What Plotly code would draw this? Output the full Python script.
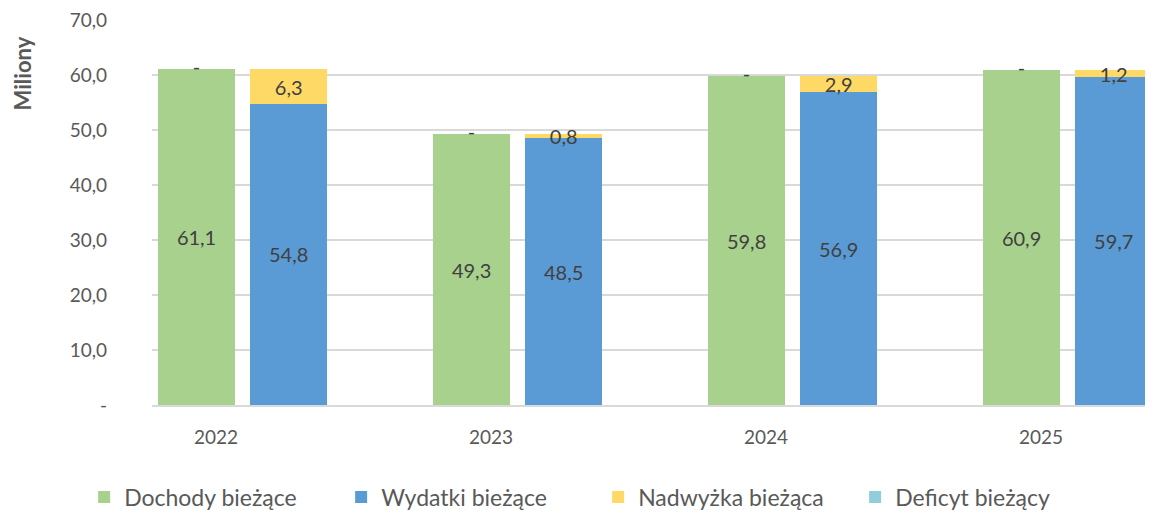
import plotly.graph_objects as go

lata = ["2022", "2023", "2024", "2025"]
dochody = [61.1, 49.3, 59.8, 60.9]
wydatki = [54.8, 48.5, 56.9, 59.7]
nadwyzka = [6.3, 0.8, 2.9, 1.2]
deficyt = [0.0, 0.0, 0.0, 0.0]
y_ticks = [0, 10, 20, 30, 40, 50, 60, 70]

GREEN = "#A9D18E"
BLUE = "#5B9BD5"
YELLOW = "#FFD966"
LIGHTBLUE = "#92CDDC"
TEXT = "#404040"
FONT = "Lato, Open Sans, sans-serif"
LABEL_SIZE = 20


def fmt(v):
    return "-" if v == 0 else f"{v:.1f}".replace(".", ",")


# two stacks per year, placed left/right of the category tick
idx = list(range(len(lata)))
x_left = [i - 0.071 for i in idx]
x_right = [i + 0.264 for i in idx]
BAR_W = 0.28

fig = go.Figure()
fig.add_trace(go.Bar(
    x=x_left, y=dochody, width=BAR_W, name="Dochody bieżące",
    marker=dict(color=GREEN, line=dict(width=0)),
    text=[fmt(v) for v in dochody], textposition="inside", insidetextanchor="middle",
    textfont=dict(color=TEXT, size=LABEL_SIZE, family=FONT),
))
fig.add_trace(go.Bar(
    x=x_right, y=wydatki, width=BAR_W, name="Wydatki bieżące",
    marker=dict(color=BLUE, line=dict(width=0)),
    text=[fmt(v) for v in wydatki], textposition="inside", insidetextanchor="middle",
    textfont=dict(color=TEXT, size=LABEL_SIZE, family=FONT),
))
fig.add_trace(go.Bar(
    x=x_right, y=nadwyzka, width=BAR_W, name="Nadwyżka bieżąca",
    marker=dict(color=YELLOW, line=dict(width=0)),
    text=[fmt(v) for v in nadwyzka], textposition="inside", insidetextanchor="middle",
    textfont=dict(color=TEXT, size=LABEL_SIZE, family=FONT),
))
fig.add_trace(go.Bar(
    x=x_left, y=deficyt, width=BAR_W, name="Deficyt bieżący",
    marker=dict(color=LIGHTBLUE, line=dict(width=0)),
))
# zero deficit labels ("-") on top of the income bars
fig.add_trace(go.Scatter(
    x=x_left, y=[d + f for d, f in zip(dochody, deficyt)],
    mode="text", text=[fmt(v) for v in deficyt], textposition="middle center",
    textfont=dict(color=TEXT, size=LABEL_SIZE, family=FONT),
    showlegend=False, hoverinfo="skip",
))

# page body keeps an 8px default margin, so the figure is 8px smaller
fig.update_layout(
    barmode="stack",
    width=1145, height=505,
    margin=dict(l=144, r=3, t=12, b=108, autoexpand=False),
    plot_bgcolor="white", paper_bgcolor="white",
    font=dict(family=FONT, color="#595959", size=19),
    uniformtext=dict(minsize=LABEL_SIZE, mode="show"),
    showlegend=True,
    legend=dict(
        orientation="h", x=-0.068, xanchor="left", y=-0.239, yanchor="middle",
        font=dict(size=23, color="#595959", family=FONT),
        entrywidth=212, itemwidth=30, traceorder="normal",
    ),
    annotations=[dict(
        text="<b>Miliony</b>", textangle=-90, xref="paper", yref="paper",
        x=-0.13, y=0.862, xanchor="center", yanchor="middle", showarrow=False,
        font=dict(size=22, color="#595959", family=FONT),
    )],
)
fig.update_xaxes(
    range=[-0.233, 3.396], tickvals=idx, ticktext=lata, automargin=False,
    showgrid=False, showline=True, linecolor="#D9D9D9", linewidth=2,
    ticks="", ticklabelstandoff=14, tickfont=dict(size=19),
)
fig.update_yaxes(
    range=[0, 70.05], tickvals=y_ticks, ticktext=[fmt(v) for v in y_ticks], automargin=False,
    showgrid=True, gridcolor="#D9D9D9", gridwidth=1.5, zeroline=False,
    showline=False, ticks="", ticklabelstandoff=44, tickfont=dict(size=19),
    ticklabeloverflow="allow",
)

fig.write_html("out.html")
